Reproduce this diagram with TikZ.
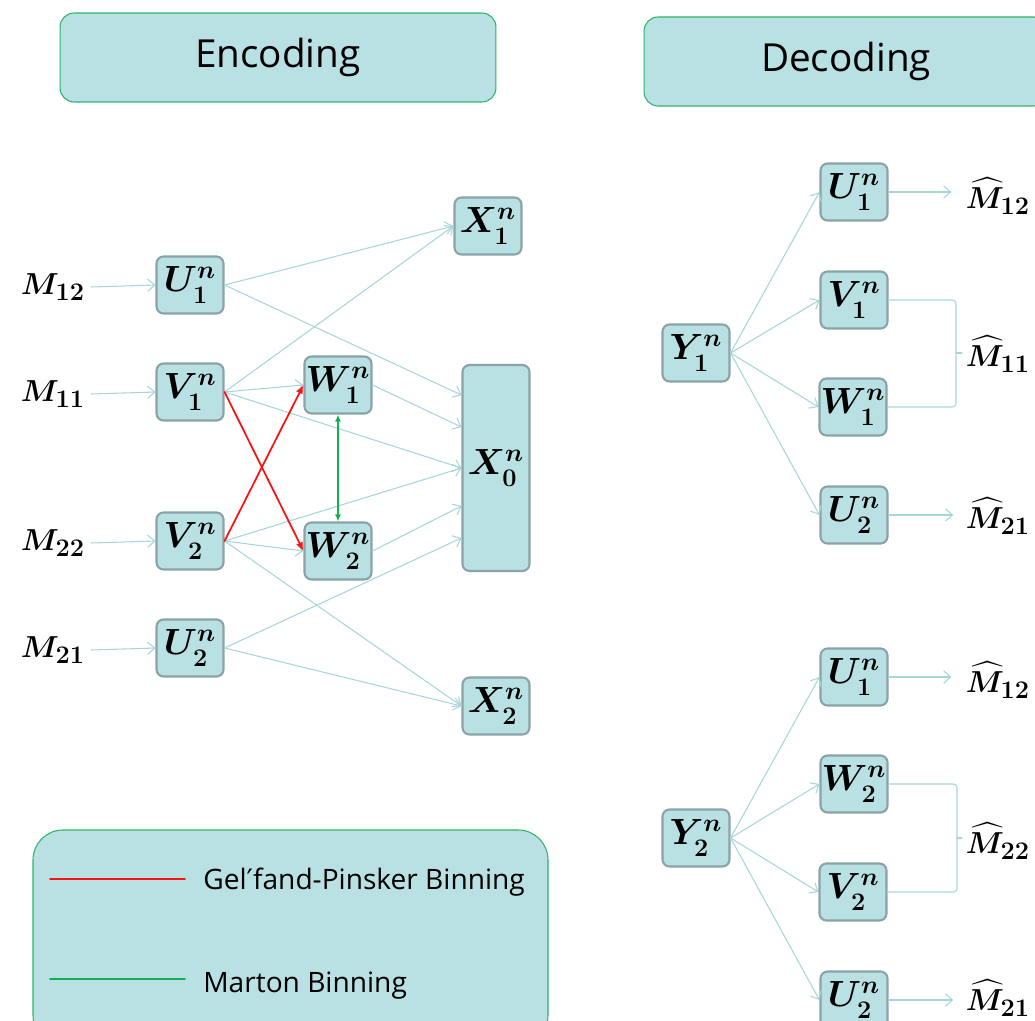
\documentclass[tikz,border=0pt]{standalone}
\usepackage{amsmath}
\usepackage{bm}
\usepackage{fontspec}
\setmainfont{Open Sans}
\newfontfamily\primefont{DejaVu Sans}
\usetikzlibrary{arrows.meta,calc}

\definecolor{boxfill}{HTML}{B9E0E3}
\definecolor{boxline}{HTML}{8AA3A6}
\definecolor{linkcol}{HTML}{A6D6DA}
\definecolor{headline}{HTML}{2EB36A}
\definecolor{gpred}{HTML}{FF1010}
\definecolor{martongreen}{HTML}{12B050}

\begin{document}
\begin{tikzpicture}[line cap=round,line join=round,x=0.02cm,y=-0.02cm,
    var/.style={draw=boxline,fill=boxfill,line width=1.2pt,rounded corners=4pt,
      minimum width=1.34cm,minimum height=1.14cm,inner sep=0pt,font=\fontsize{20}{24}\selectfont\boldmath},
    header/.style={draw=headline,fill=boxfill,line width=0.6pt,rounded corners=8pt,
      minimum height=1.78cm,font=\fontsize{22}{26}\selectfont},
    msg/.style={font=\fontsize{19}{23}\selectfont\boldmath},
    hatlab/.style={font=\fontsize{19}{23}\selectfont\boldmath,anchor=west,inner sep=2pt},
    link/.style={draw=linkcol,line width=0.6pt,-{Straight Barb[length=4pt,width=7pt]}},
    brace/.style={draw=linkcol,line width=0.6pt,rounded corners=2pt},
    gp/.style={draw=gpred,line width=1pt,-{Latex[length=5pt,width=4pt]}},
    marton/.style={draw=martongreen,line width=1pt,{Latex[length=4pt,width=3.5pt]}-{Latex[length=4pt,width=3.5pt]}}]
  \useasboundingbox (0,0) rectangle (1035,1021);
  \clip (0,0) rectangle (1035,1021);

  % Headers
  \node[header,minimum width=8.72cm] (enc) at (278,57.5) {Encoding};
  \node[header,minimum width=8.08cm] (dec) at (846,61.5) {Decoding};

  % Legend
  \draw[draw=headline,fill=boxfill,line width=0.6pt,rounded corners=17pt] (33,830) rectangle (548,1045);
  \draw[draw=gpred,line width=1.1pt] (50,879) -- (185,879);
  \draw[draw=martongreen,line width=1.1pt] (50,979) -- (185,979);
  \node[anchor=base west,inner sep=0pt,font=\fontsize{16}{19}\selectfont] (gptext) at (203,889) {Gel{\primefont ′}fand-Pinsker Binning};
  \node[anchor=base west,inner sep=0pt,font=\fontsize{16}{19}\selectfont] (mtext) at (203,992) {Marton Binning};

  % Encoder: messages
  \node[msg] (m12) at (53,287) {$M_{12}$};
  \node[msg] (m11) at (53,394) {$M_{11}$};
  \node[msg] (m22) at (53,543) {$M_{22}$};
  \node[msg] (m21) at (53,650) {$M_{21}$};

  % Encoder: codewords
  \node[var] (U1) at (190,285) {$U_1^n$};
  \node[var] (V1) at (190,392) {$V_1^n$};
  \node[var] (V2) at (190,541) {$V_2^n$};
  \node[var] (U2) at (190,648) {$U_2^n$};
  \node[var] (W1) at (338,385) {$W_1^n$};
  \node[var] (W2) at (338,551) {$W_2^n$};
  \node[var] (X1) at (488,226) {$X_1^n$};
  \node[var,minimum height=4.12cm] (X0) at (496,468) {$X_0^n$};
  \node[var] (X2) at (496,706) {$X_2^n$};

  \coordinate (x0a) at ($(X0.west)+(0,-73)$);
  \coordinate (x0b) at ($(X0.west)+(0,-41)$);
  \coordinate (x0d) at ($(X0.west)+(0,38)$);
  \coordinate (x0e) at ($(X0.west)+(0,70)$);

  % Encoder: connections
  \draw[link] (m12.east) -- (U1.west);
  \draw[link] (m11.east) -- (V1.west);
  \draw[link] (m22.east) -- (V2.west);
  \draw[link] (m21.east) -- (U2.west);

  \draw[link] (U1.east) -- (X1.west);
  \draw[link] (U1.east) -- (x0a);
  \draw[link] (V1.east) -- (X1.west);
  \draw[link] (V1.east) -- (W1.west);
  \draw[link] (V1.east) -- (X0.west);
  \draw[link] (V2.east) -- (X0.west);
  \draw[link] (V2.east) -- (W2.west);
  \draw[link] (V2.east) -- (X2.west);
  \draw[link] (U2.east) -- (x0e);
  \draw[link] (U2.east) -- (X2.west);
  \draw[link] (W1.east) -- (x0b);
  \draw[link] (W2.east) -- (x0d);

  \draw[gp] (V1.east) -- (W2.west);
  \draw[gp] (V2.east) -- (W1.west);
  \draw[marton] (W1.south) -- (W2.north);

  % Decoder 1
  \node[var] (Y1) at (696,353) {$Y_1^n$};
  \node[var] (dU1) at (854,192) {$U_1^n$};
  \node[var] (dV1) at (854,300) {$V_1^n$};
  \node[var] (dW1) at (853,407) {$W_1^n$};
  \node[var] (dU2) at (854,515) {$U_2^n$};

  \node[hatlab] (h12) at (962,196) {$\widehat{M}_{12}$};
  \node[hatlab] (h11) at (962,354) {$\widehat{M}_{11}$};
  \node[hatlab] (h21) at (962,516) {$\widehat{M}_{21}$};
  \coordinate (b11) at (956,353);

  \draw[link] (Y1.east) -- (dU1.west);
  \draw[link] (Y1.east) -- (dV1.west);
  \draw[link] (Y1.east) -- (dW1.west);
  \draw[link] (Y1.east) -- (dU2.west);
  \draw[link,shorten >=6pt] (dU1.east) -- (dU1.east -| h12.west);
  \draw[link,shorten >=5pt] (dU2.east) -- (dU2.east -| h21.west);
  \draw[brace] (dV1.east) -| (b11) |- (dW1.east);
  \draw[brace] (b11) -- (b11 -| h11.west);

  % Decoder 2
  \node[var] (Y2) at (696,838) {$Y_2^n$};
  \node[var] (eU1) at (854,677) {$U_1^n$};
  \node[var] (eW2) at (854,784) {$W_2^n$};
  \node[var] (eV2) at (853,892) {$V_2^n$};
  \node[var] (eU2) at (854,1000) {$U_2^n$};

  \node[hatlab] (k12) at (962,680) {$\widehat{M}_{12}$};
  \node[hatlab] (k22) at (962,841) {$\widehat{M}_{22}$};
  \node[hatlab] (k21) at (962,998) {$\widehat{M}_{21}$};
  \coordinate (b22) at (957,838);

  \draw[link] (Y2.east) -- (eU1.west);
  \draw[link] (Y2.east) -- (eW2.west);
  \draw[link] (Y2.east) -- (eV2.west);
  \draw[link] (Y2.east) -- (eU2.west);
  \draw[link,shorten >=6pt] (eU1.east) -- (eU1.east -| k12.west);
  \draw[link,shorten >=5pt] (eU2.east) -- (eU2.east -| k21.west);
  \draw[brace] (eW2.east) -| (b22) |- (eV2.east);
  \draw[brace] (b22) -- (b22 -| k22.west);
\end{tikzpicture}
\end{document}
